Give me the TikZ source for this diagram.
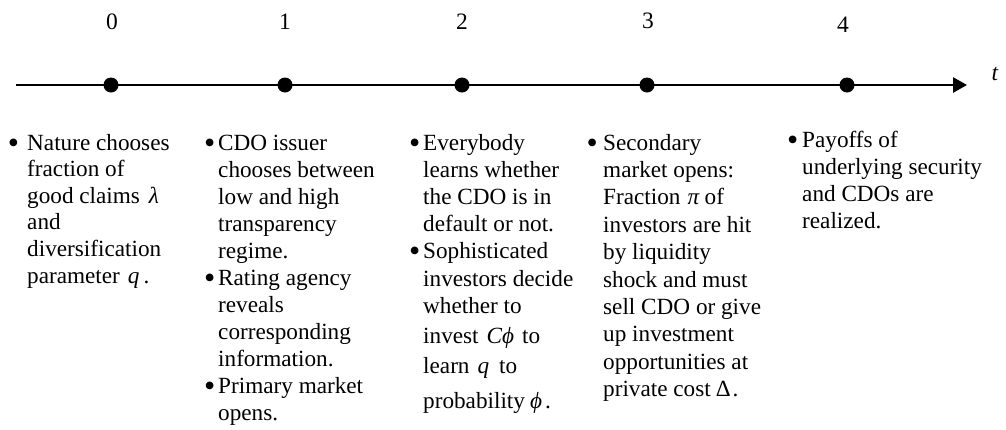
\documentclass[tikz,border=0pt]{standalone}
\usepackage{fontspec}
\setmainfont{Liberation Serif}
\usetikzlibrary{arrows.meta}

% hanging bullet: #1 is the gap between bullet and text
\newcommand\bul[1][6pt]{\leavevmode\llap{\raisebox{-3pt}{\fontsize{32}{32}\selectfont\textbullet}\hspace{#1}}}
% italic symbol set like an equation object
\newcommand\mi[1]{\textit{#1}}
% one column of event text, first baseline is the box baseline
\newcommand\colbox[3]{\parbox[t]{#1}{\raggedright\fontsize{23.2}{#2}\selectfont #3}}

\tikzset{
  axisline/.style={line width=2.7pt, -{Triangle[length=14pt,width=15pt]}},
  event/.style={circle, fill=black, inner sep=0pt, minimum size=15pt},
  datelabel/.style={anchor=base, inner sep=0pt, font=\fontsize{23.5}{27}\selectfont},
  eventtext/.style={anchor=base west, inner sep=0pt}
}

\begin{document}
\begin{tikzpicture}[x=1pt,y=-1pt]
\useasboundingbox (0,0) rectangle (1006,429);

% time axis
\coordinate (axstart) at (16,85);
\coordinate (axend) at (967,85);
\draw[axisline] (axstart) -- (axend);
\node[datelabel] (tlab) at (995,80) {\textit{t}};

% dates
\node[event] (e0) at (111,85) {};
\node[event] (e1) at (285,85) {};
\node[event] (e2) at (462,85) {};
\node[event] (e3) at (647,85) {};
\node[event] (e4) at (847,85) {};

\node[datelabel] (d0) at (112,29) {0};
\node[datelabel] (d1) at (285,29) {1};
\node[datelabel] (d2) at (462,29) {2};
\node[datelabel] (d3) at (648,28) {3};
\node[datelabel] (d4) at (843,32) {4};

% what happens at each date
\node[eventtext] (t0) at (27,150) {\colbox{170pt}{26.6pt}{%
\bul[8pt]Nature chooses\\
fraction of\\
good claims\hspace{9pt}\mi{λ}\\
and\\
diversification\\
parameter\hspace{8pt}\mi{q}\hspace{4pt}.}};

\node[eventtext] (t1) at (218,150) {\colbox{190pt}{27pt}{%
\bul[3pt]CDO issuer\\
chooses between\\
low and high\\
transparency\\
regime.\\
\bul[3pt]Rating agency\\
reveals\\
corresponding\\
information.\\
\bul[3pt]Primary market\\
opens.}};

\begin{scope}
\clip (400,100) rectangle (573,429);
\node[eventtext] (t2) at (423,150) {\colbox{190pt}{27.2pt}{%
\bul[3pt]Everybody\\
learns whether\\
the CDO is in\\
default or not.\\
\bul[3pt]Sophisticated\\
investors decide\\
whether to\\[3pt]
invest\hspace{8pt}\mi{Cϕ}\hspace{8pt}to\\[3pt]
learn\hspace{8pt}\mi{q}\hspace{10pt}to\\[8pt]
probability\hspace{5pt}\mi{ϕ}\hspace{3pt}.}};
\end{scope}

\node[eventtext] (t3) at (603,150) {\colbox{190pt}{27.4pt}{%
\bul[5.5pt]Secondary\\
market opens:\\
Fraction\hspace{7pt}\mi{π}\hspace{5pt}of\\
investors are hit\\
by liquidity\\
shock and must\\
sell CDO or give\\
up investment\\
opportunities at\\
private cost\hspace{5pt}Δ\hspace{2pt}.}};

\node[eventtext] (t4) at (802,147) {\colbox{200pt}{27pt}{%
\bul[4pt]Payoffs of\\
underlying security\\
and CDOs are\\
realized.}};
\end{tikzpicture}
\end{document}
